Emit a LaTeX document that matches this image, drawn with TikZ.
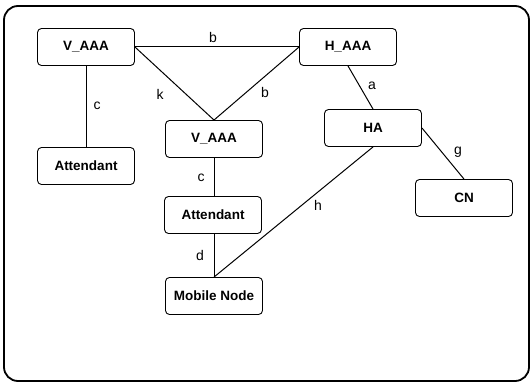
\documentclass[tikz,border=0pt]{standalone}
\usepackage{fontspec}
\setmainfont{Liberation Sans}
\begin{document}
\begin{tikzpicture}[x=1pt,y=-1pt,
  ent/.style={draw,line width=0.9pt,rounded corners=4pt,minimum width=97pt,minimum height=37pt,inner sep=0pt,font=\fontsize{13.5}{15}\selectfont\bfseries},
  lnk/.style={line width=1pt},
  lab/.style={font=\fontsize{14}{16}\selectfont,inner sep=0pt}]
\useasboundingbox (0,0) rectangle (532,385);
\draw[line width=1.8pt,rounded corners=14pt] (4,6) rectangle (529,381);
\node[ent] (va1) at (86,47) {V\_AAA};
\node[ent] (at1) at (86,166) {Attendant};
\node[ent] (va2) at (214,139) {V\_AAA};
\node[ent] (ha) at (348,47) {H\_AAA};
\node[ent] (hag) at (373,128) {HA};
\node[ent] (cn) at (464,198) {CN};
\node[ent] (at2) at (213,215) {Attendant};
\node[ent] (mn) at (214,296) {Mobile Node};
\draw[lnk] (va1.east) -- (ha.west);
\draw[lnk] (va1.east) -- (va2.north);
\draw[lnk] (ha.west) -- (va2.north);
\draw[lnk] (va1.south) -- (at1.north);
\draw[lnk] (ha.south) -- (hag.north);
\draw[lnk] (hag.east) -- (cn.north);
\draw[lnk] (hag.south) -- (mn.north);
\draw[lnk] (va2.south) -- (va2.south |- at2.north);
\draw[lnk] (va2.south |- at2.south) -- (mn.north);
\node[lab] (lb1) at (213,37) {b};
\node[lab] (lk) at (160,94) {k};
\node[lab] (lb2) at (265,92) {b};
\node[lab] (lc1) at (97,106) {c};
\node[lab] (la) at (372,86) {a};
\node[lab] (lg) at (458,152) {g};
\node[lab] (lh) at (318,205) {h};
\node[lab] (lc2) at (201,178) {c};
\node[lab] (ld) at (200,255) {d};
\end{tikzpicture}
\end{document}
